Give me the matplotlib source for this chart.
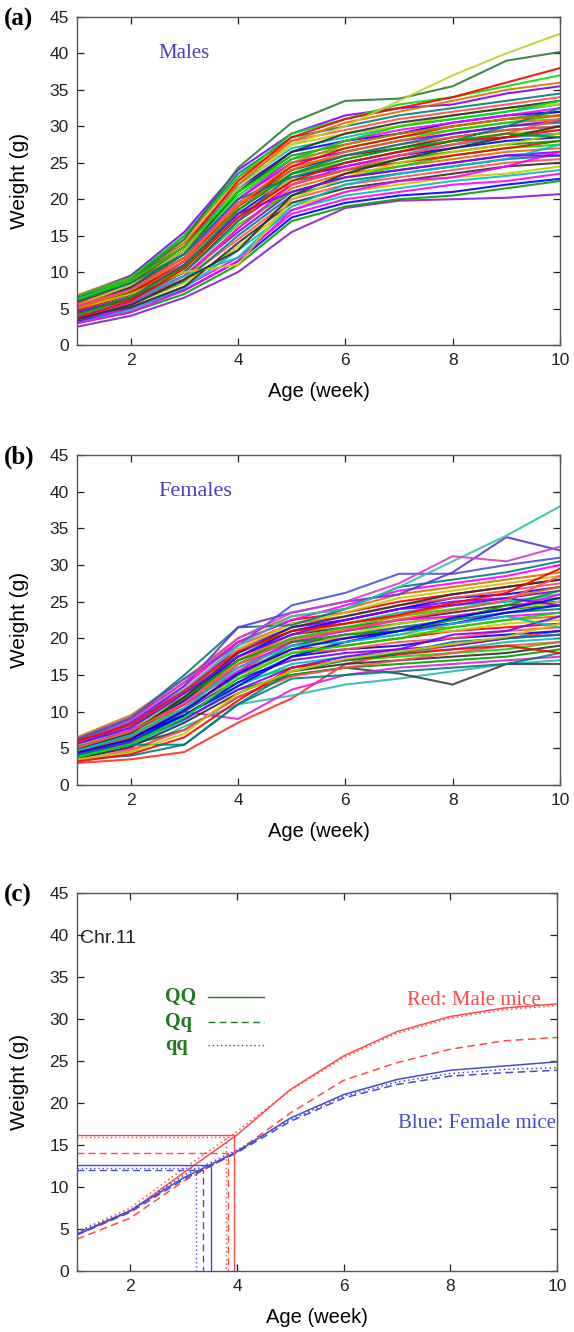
import numpy as np
import matplotlib
matplotlib.use("Agg")
import matplotlib.pyplot as plt

# --------------------------
# Data
# --------------------------
weeks = [1, 2, 3, 4, 5, 6, 7, 8, 9, 10]

male_curves = [
    [2.5, 4.0, 6.5, 10.0, 15.5, 18.8, 19.8, 20.0, 20.2, 20.7],
    [3.0, 4.5, 7.0, 11.0, 17.0, 19.0, 20.0, 20.5, 21.5, 22.5],
    [3.2, 5.0, 7.5, 11.5, 17.5, 19.5, 20.5, 21.0, 22.0, 22.8],
    [3.5, 5.0, 8.0, 12.0, 18.0, 20.0, 21.0, 22.0, 22.5, 23.5],
    [3.0, 4.8, 7.8, 13.0, 18.5, 20.5, 21.5, 22.5, 23.2, 24.0],
    [4.0, 5.5, 8.5, 13.5, 19.0, 21.0, 22.0, 23.0, 23.5, 24.5],
    [3.8, 5.2, 8.0, 14.0, 19.5, 21.5, 22.5, 23.5, 24.5, 25.0],
    [4.2, 6.0, 9.0, 14.5, 20.0, 22.0, 23.0, 24.0, 25.0, 25.5],
    [3.5, 5.5, 8.8, 15.0, 20.5, 22.5, 23.5, 24.5, 25.5, 26.0],
    [4.5, 6.2, 9.5, 15.5, 21.0, 23.0, 24.0, 25.0, 26.0, 26.5],
    [4.0, 6.0, 9.0, 16.0, 21.5, 23.5, 24.5, 25.5, 26.5, 27.0],
    [5.0, 6.5, 10.0, 16.5, 21.0, 23.0, 24.5, 26.0, 27.0, 27.5],
    [4.3, 6.3, 10.0, 17.0, 22.0, 24.0, 25.0, 26.0, 27.0, 28.0],
    [5.2, 7.0, 10.5, 17.5, 22.5, 24.0, 25.5, 26.5, 27.5, 28.0],
    [4.8, 6.8, 10.8, 18.0, 23.0, 24.5, 26.0, 27.0, 28.0, 28.5],
    [3.8, 5.8, 9.5, 16.0, 22.0, 24.5, 26.0, 27.5, 28.5, 29.0],
    [5.5, 7.5, 11.0, 18.5, 23.5, 25.0, 26.5, 27.5, 28.5, 29.0],
    [4.6, 6.6, 10.5, 17.5, 23.0, 25.5, 27.0, 28.0, 29.0, 29.5],
    [5.0, 7.2, 11.5, 19.0, 24.0, 26.0, 27.0, 28.5, 29.5, 30.0],
    [6.0, 8.0, 12.0, 19.5, 24.5, 26.0, 27.5, 28.5, 29.5, 30.0],
    [4.5, 6.5, 10.0, 17.0, 23.5, 26.0, 27.5, 29.0, 30.0, 30.5],
    [5.5, 7.8, 12.5, 20.0, 25.0, 26.5, 28.0, 29.0, 30.0, 30.8],
    [5.0, 7.0, 11.0, 18.5, 24.0, 26.5, 28.0, 29.5, 30.5, 31.0],
    [6.2, 8.5, 13.0, 20.5, 25.5, 27.0, 28.5, 29.5, 30.5, 31.5],
    [4.8, 7.0, 11.5, 19.0, 24.5, 27.0, 28.5, 30.0, 31.0, 31.5],
    [5.8, 8.0, 12.5, 21.0, 26.0, 27.5, 29.0, 30.0, 31.0, 32.0],
    [6.5, 9.0, 13.5, 21.5, 26.5, 28.0, 29.0, 30.5, 31.5, 32.0],
    [5.3, 7.5, 12.0, 20.0, 25.5, 28.0, 29.5, 30.5, 31.5, 32.5],
    [6.0, 8.5, 13.5, 22.0, 27.0, 28.5, 30.0, 31.0, 32.0, 33.0],
    [6.5, 9.2, 14.0, 22.5, 27.5, 29.0, 30.0, 31.5, 32.5, 33.0],
    [5.5, 8.0, 13.0, 21.0, 26.5, 29.0, 30.5, 31.5, 32.5, 33.5],
    [6.8, 9.5, 14.5, 23.0, 28.0, 29.5, 31.0, 32.0, 33.0, 34.0],
    [6.2, 9.0, 15.0, 23.5, 28.5, 30.0, 31.5, 32.5, 33.5, 34.5],
    [6.5, 9.5, 15.5, 24.0, 29.0, 31.5, 32.5, 33.0, 34.5, 35.5],
    [6.0, 9.0, 14.0, 22.0, 28.0, 30.5, 32.0, 33.5, 35.0, 36.0],
    [6.7, 9.3, 15.0, 23.0, 29.0, 31.0, 33.0, 34.0, 35.5, 37.0],
    [5.8, 8.5, 13.5, 22.5, 28.5, 31.0, 32.5, 34.0, 36.0, 38.0],
    [6.0, 8.8, 14.5, 24.3, 30.5, 33.5, 33.8, 35.5, 39.0, 40.2],
    [5.5, 8.2, 13.0, 21.5, 27.5, 30.0, 33.5, 37.0, 40.0, 42.7],
    [3.0, 4.5, 7.5, 11.5, 18.5, 21.0, 22.5, 23.0, 24.5, 26.5],
    [4.0, 6.0, 9.5, 12.0, 19.0, 22.0, 23.5, 24.5, 25.5, 27.5],
    [5.0, 7.0, 10.0, 11.0, 20.0, 23.0, 25.0, 26.5, 27.5, 29.0],
    [3.5, 5.5, 9.0, 13.0, 20.5, 23.5, 25.5, 27.0, 28.5, 30.0],
    [5.5, 7.5, 11.5, 19.5, 22.0, 24.0, 26.0, 27.5, 29.0, 31.0],
    [6.0, 8.5, 12.5, 20.0, 23.0, 25.0, 26.5, 28.0, 30.0, 32.5],
    [4.5, 6.5, 11.0, 18.0, 21.0, 23.0, 24.0, 25.0, 26.0, 26.0],
    [5.0, 7.5, 12.0, 19.0, 25.0, 27.5, 29.0, 30.0, 31.0, 31.5],
    [6.3, 8.8, 13.5, 21.0, 25.5, 28.0, 30.0, 31.0, 32.0, 33.5],
    [3.8, 6.0, 10.5, 17.5, 22.5, 25.0, 26.5, 28.0, 28.5, 29.5],
    [4.2, 6.5, 10.8, 18.5, 23.5, 25.5, 27.0, 28.0, 29.0, 28.5],
]

female_curves = [
    [3.0, 3.5, 4.5, 8.5, 11.8, 16.5, 18.0, 19.0, 20.0, 21.0],
    [3.5, 4.5, 8.0, 11.0, 12.2, 13.7, 14.5, 15.5, 16.5, 17.0],
    [4.0, 5.5, 7.5, 12.0, 15.0, 16.0, 15.2, 13.7, 16.5, 16.5],
    [3.8, 5.0, 10.0, 9.0, 13.0, 15.0, 16.0, 16.5, 17.0, 17.5],
    [3.5, 4.0, 5.5, 11.0, 14.5, 15.0, 15.5, 16.0, 16.5, 18.0],
    [4.2, 5.8, 9.0, 13.0, 15.0, 16.0, 16.5, 17.0, 17.5, 18.5],
    [3.6, 5.2, 8.5, 12.5, 15.5, 16.5, 17.0, 17.5, 18.0, 19.0],
    [4.5, 6.0, 9.5, 14.0, 16.0, 17.0, 17.5, 18.0, 18.5, 19.5],
    [3.8, 5.5, 8.8, 13.5, 16.5, 17.5, 18.0, 18.5, 19.5, 20.0],
    [4.8, 6.5, 10.0, 14.5, 17.0, 18.0, 18.5, 19.0, 20.0, 20.5],
    [4.0, 6.0, 9.5, 14.0, 17.5, 18.5, 19.0, 20.0, 20.5, 21.0],
    [5.0, 6.8, 10.5, 15.0, 18.0, 18.5, 19.5, 20.0, 21.0, 21.5],
    [4.3, 6.2, 10.0, 15.5, 18.5, 19.0, 20.0, 21.0, 21.5, 22.0],
    [5.3, 7.0, 11.0, 16.0, 18.0, 19.5, 20.5, 21.0, 22.0, 22.5],
    [4.6, 6.5, 10.5, 16.5, 19.0, 20.0, 21.0, 21.5, 22.5, 23.0],
    [5.5, 7.5, 11.5, 16.0, 19.5, 20.0, 21.5, 22.0, 23.0, 23.5],
    [4.2, 6.0, 10.0, 15.0, 19.0, 20.5, 21.5, 22.5, 23.5, 24.0],
    [5.0, 7.0, 11.5, 17.0, 20.0, 21.0, 22.0, 23.0, 24.0, 24.5],
    [5.8, 8.0, 12.0, 17.5, 20.5, 21.5, 22.5, 23.5, 24.5, 25.0],
    [4.5, 6.8, 11.0, 16.5, 20.0, 21.5, 23.0, 24.0, 25.0, 25.5],
    [5.2, 7.5, 12.5, 18.0, 21.0, 22.0, 23.5, 24.5, 25.0, 26.0],
    [6.0, 8.5, 13.0, 18.5, 21.5, 22.5, 24.0, 25.0, 25.5, 26.5],
    [4.8, 7.0, 11.5, 17.5, 21.0, 22.5, 24.0, 25.5, 26.0, 27.0],
    [5.5, 8.0, 13.0, 19.0, 22.0, 23.0, 24.5, 25.5, 26.5, 27.5],
    [6.2, 9.0, 14.0, 19.5, 22.5, 23.5, 25.0, 26.0, 27.0, 28.0],
    [5.0, 7.5, 12.0, 18.5, 22.0, 23.5, 25.5, 26.5, 27.5, 28.5],
    [6.5, 9.5, 14.5, 20.0, 23.0, 24.0, 26.0, 27.0, 28.0, 29.0],
    [5.7, 8.5, 13.5, 19.5, 22.5, 24.5, 26.5, 27.5, 28.5, 30.0],
    [6.0, 9.0, 15.0, 21.5, 21.8, 24.0, 27.0, 28.0, 29.0, 30.5],
    [6.3, 9.2, 14.5, 19.0, 24.5, 26.2, 28.8, 28.8, 30.0, 31.0],
    [5.5, 8.5, 13.5, 21.5, 23.5, 25.0, 26.0, 29.0, 33.8, 32.0],
    [5.0, 8.0, 13.0, 19.0, 23.0, 24.0, 27.0, 30.5, 34.0, 38.0],
    [5.8, 8.8, 14.0, 20.0, 23.5, 25.0, 27.5, 31.2, 30.5, 32.5],
    [4.0, 5.8, 9.0, 13.0, 16.0, 17.5, 18.5, 20.5, 21.0, 23.0],
    [4.5, 6.5, 9.5, 13.5, 17.5, 19.5, 21.0, 22.0, 23.5, 24.5],
    [3.3, 4.8, 7.5, 12.0, 14.8, 16.0, 17.0, 18.0, 19.0, 19.5],
    [3.2, 4.2, 6.5, 11.5, 16.0, 17.0, 17.8, 18.5, 19.0, 18.0],
    [5.5, 7.0, 10.5, 14.5, 18.5, 20.5, 22.0, 23.0, 24.0, 25.0],
    [4.5, 6.5, 11.0, 17.0, 20.5, 22.0, 23.0, 24.5, 25.5, 27.0],
    [5.0, 7.5, 11.0, 15.5, 19.5, 21.0, 22.5, 23.0, 24.0, 26.0],
    [4.0, 5.5, 5.5, 11.0, 15.5, 17.0, 18.0, 19.5, 20.0, 20.5],
    [5.2, 7.2, 11.8, 17.0, 19.5, 20.5, 21.0, 22.5, 24.5, 26.5],
    [4.8, 7.0, 12.0, 18.0, 21.5, 23.0, 24.5, 26.0, 27.0, 28.0],
    [3.8, 5.6, 9.2, 14.5, 18.0, 19.0, 20.0, 21.5, 22.5, 23.5],
    [4.7, 6.8, 10.5, 16.0, 19.0, 19.5, 20.5, 22.0, 23.0, 21.5],
    [5.6, 7.8, 12.5, 17.5, 20.5, 22.5, 24.0, 24.5, 25.5, 24.5],
    [4.4, 6.2, 10.2, 15.2, 18.5, 20.0, 21.0, 22.8, 24.0, 25.5],
    [5.1, 7.3, 11.2, 16.5, 19.8, 21.2, 22.6, 23.8, 25.2, 28.5],
    [6.0, 8.2, 12.8, 18.2, 21.0, 22.0, 23.2, 24.8, 26.2, 29.5],
    [3.5, 4.5, 7.0, 12.5, 15.5, 17.2, 18.2, 19.2, 20.2, 22.0],
]

# panel (c): fitted growth curves by genotype
male_QQ = [4.3, 7.1, 11.7, 16.2, 21.6, 25.6, 28.5, 30.3, 31.3, 31.8]
male_Qq = [3.8, 6.3, 10.7, 14.2, 18.8, 22.7, 24.8, 26.4, 27.4, 27.8]
male_qq = [4.7, 7.5, 12.2, 16.6, 21.5, 25.4, 28.3, 30.1, 31.1, 31.6]
female_QQ = [4.4, 7.2, 11.1, 14.2, 18.2, 21.0, 22.8, 23.9, 24.4, 24.9]
female_Qq = [4.3, 7.0, 10.9, 14.1, 17.8, 20.6, 22.2, 23.2, 23.6, 23.9]
female_qq = [4.6, 7.2, 11.4, 14.4, 18.0, 20.8, 22.5, 23.5, 24.0, 24.2]

# half-max time / weight markers (week, weight)
male_marks = [(3.94, 16.2), (3.84, 14.1), (3.79, 16.0)]
female_marks = [(3.52, 12.6), (3.36, 12.05), (3.23, 12.3)]

genotypes = ["QQ", "Qq", "qq"]
styles = ["-", (0, (5, 3)), (0, (1, 2))]

line_colors = ['#ff0000', '#00a000', '#0000ff', '#ff00ff', '#00c0c0',
               '#c8c800', '#303030', '#ff5050', '#008080', '#8000ff',
               '#e07000', '#00e000']

# the stand-out curves keep their own colour
male_special = {0: '#8a1fd0', 37: '#2e7a3a', 38: '#c8cc30'}
female_special = {0: '#ff3030', 1: '#30b8b8', 2: '#404040', 3: '#e020e0',
                  29: '#5050e0', 30: '#5a3ad8', 31: '#30c0b0', 32: '#d040d0'}

RED = '#ff4a4a'
BLUE = '#4a4ad0'
TEXT_BLUE = '#4b3fb8'
GREEN = '#1f7a1f'

# --------------------------
# Figure
# --------------------------
plt.rcParams['font.family'] = ['Liberation Sans', 'DejaVu Sans']
fig = plt.figure(figsize=(5.74, 13.32), dpi=100)

W = 574.0
H = 1332.0
def axes_px(left, top, right, bottom):
    return fig.add_axes([left / W, 1 - bottom / H, (right - left) / W, (bottom - top) / H])

ax_a = axes_px(77, 17, 560, 345)
ax_b = axes_px(77, 455, 560, 785)
ax_c = axes_px(77, 893, 557, 1271)

def style_axes(ax):
    ax.set_xlim(1, 10)
    ax.set_ylim(0, 45)
    ax.set_xticks([2, 4, 6, 8, 10])
    ax.set_yticks(range(0, 46, 5))
    ax.tick_params(direction='in', top=True, right=True, length=5,
                   labelsize=12.5, colors='#222222', width=0.9, pad=6)
    for s in ax.spines.values():
        s.set_color('#555555')
        s.set_linewidth(1.0)
    ax.set_xlabel("Age (week)", fontsize=14.5, labelpad=10)
    ax.set_ylabel("Weight (g)", fontsize=15)
    ax.yaxis.set_label_coords(-0.10, 0.5)

# (a) males
for i, c in enumerate(male_curves):
    col = male_special.get(i, line_colors[i % len(line_colors)])
    ax_a.plot(weeks, c, color=col, lw=1.5, alpha=0.9)
style_axes(ax_a)
ax_a.text(3.0, 40, "Males", family='Liberation Serif', fontsize=15,
          color=TEXT_BLUE, ha='center', va='center')

# (b) females
for i, c in enumerate(female_curves):
    col = female_special.get(i, line_colors[(i * 5) % len(line_colors)])
    ax_b.plot(weeks, c, color=col, lw=1.5, alpha=0.9)
style_axes(ax_b)
ax_b.text(3.2, 40, "Females", family='Liberation Serif', fontsize=16,
          color=TEXT_BLUE, ha='center', va='center')

# (c) genotype curves
for curve, ls in zip([male_QQ, male_Qq, male_qq], styles):
    ax_c.plot(weeks, curve, color=RED, lw=1.1, linestyle=ls)
for curve, ls in zip([female_QQ, female_Qq, female_qq], styles):
    ax_c.plot(weeks, curve, color=BLUE, lw=1.1, linestyle=ls)

for (t, w), ls in zip(male_marks, styles):
    ax_c.plot([1, t, t], [w, w, 0], color=RED, lw=1.0, linestyle=ls)
for (t, w), ls in zip(female_marks, styles):
    ax_c.plot([1, t, t], [w, w, 0], color=BLUE, lw=1.0, linestyle=ls)

style_axes(ax_c)
ax_c.text(1.05, 39.6, "Chr.11", fontsize=14, ha='left', va='center', color='#222222')

leg_y = [32.6, 29.6, 26.9]
for g, ls, y in zip(genotypes, styles, leg_y):
    ax_c.text(2.65, y, g, family='Liberation Serif', fontweight='bold', fontsize=14.5,
              color=GREEN, ha='left', va='center')
    ax_c.plot([3.45, 4.5], [y, y], color=GREEN, lw=1.0, linestyle=ls)

ax_c.text(8.45, 32.2, "Red: Male mice", family='Liberation Serif', fontsize=15,
          color=RED, ha='center', va='center')
ax_c.text(8.5, 17.6, "Blue: Female mice", family='Liberation Serif', fontsize=15,
          color=BLUE, ha='center', va='center')

# panel letters
for lab, ypx in [("(a)", 19), ("(b)", 457), ("(c)", 895)]:
    fig.text(4 / W, 1 - ypx / H, lab, family='Liberation Serif', fontweight='bold',
             fontsize=18, ha='left', va='center')

fig.savefig("out.png", dpi=100)
